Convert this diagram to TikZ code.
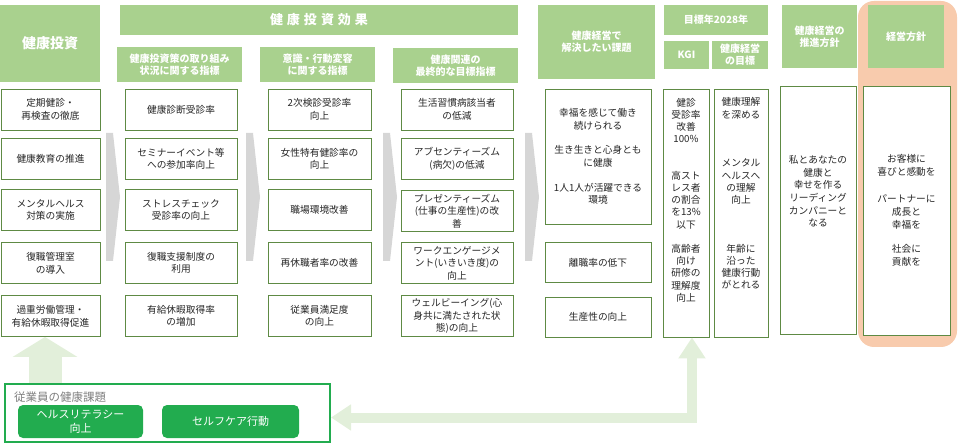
\documentclass[tikz,border=0pt]{standalone}
\usepackage{fontspec}
\setmainfont{Noto Sans CJK JP}
\usetikzlibrary{arrows.meta}
\definecolor{hgreen}{HTML}{A9D18E}
\definecolor{bgreen}{HTML}{5E8A44}
\definecolor{chev}{HTML}{D6D6D6}
\definecolor{orng}{HTML}{F8CBAD}
\definecolor{pale}{HTML}{E2EFDA}
\definecolor{vgreen}{HTML}{22AC4F}
\definecolor{bodytext}{HTML}{262626}
\definecolor{lblgray}{HTML}{7F7F7F}
\tikzset{
  hdr/.style={fill=hgreen, text=white, font=\bfseries\fontsize{10}{12}\selectfont, align=center, inner sep=0pt},
  bx/.style={draw=bgreen, line width=0.9pt, fill=white, text=bodytext, align=center, inner sep=0pt, font=\fontsize{9.7}{12.6}\selectfont},
  bodytxt/.style={text=bodytext, align=center, inner sep=0pt, font=\fontsize{9.7}{12.2}\selectfont},
  c1/.style={bx, minimum width=99pt, minimum height=41pt},
  c2/.style={bx, minimum width=112pt, minimum height=41pt},
  c3/.style={bx, minimum width=103pt, minimum height=41pt},
  c4/.style={bx, minimum width=112pt, minimum height=41pt},
  c5/.style={bx, minimum width=106pt, minimum height=40pt},
  tall/.style={bx, minimum height=248pt},
  chevshape/.style={fill=chev, draw=none},
  fat/.style={draw=pale, line join=miter},
  pill/.style={fill=vgreen, text=white, rounded corners=5pt, align=center, inner sep=0pt, minimum height=33pt, font=\fontsize{11}{14.5}\selectfont},
}
\begin{document}
\begin{tikzpicture}[x=1pt,y=-1pt]
\useasboundingbox (0,0) rectangle (958,443);
% orange backdrop
\fill[orng, rounded corners=16pt] (858,1) rectangle (957,347);
% chevrons
\foreach \L in {106,246,383,525}{
  \fill[chevshape] (\L,133) -- (\L+7,133) -- (\L+14,197) -- (\L+7,261) -- (\L,261) -- cycle;
}
% headers
\node[hdr, minimum width=100pt, minimum height=77pt, font=\bfseries\fontsize{14}{16}\selectfont] (h1) at (50,43.5) {健康投資};
\node[hdr, minimum width=398pt, minimum height=30pt, font=\bfseries\fontsize{13}{15}\selectfont] (h2) at (319,20) {健\hspace{4pt}康\hspace{4pt}投\hspace{4pt}資\hspace{4pt}効\hspace{4pt}果};
\node[hdr, minimum width=125pt, minimum height=35pt] (s2) at (179.5,64.5) {健康投資策の取り組み\\状況に関する指標};
\node[hdr, minimum width=115pt, minimum height=35pt] (s3) at (317.5,64.5) {意識・行動変容\\に関する指標};
\node[hdr, minimum width=125pt, minimum height=35pt] (s4) at (455.5,65.5) {健康関連の\\最終的な目標指標};
\node[hdr, minimum width=117pt, minimum height=74pt] (h5) at (596.5,42) {健康経営で\\解決したい課題};
\node[hdr, minimum width=104pt, minimum height=30pt] (h6) at (716,20) {目標年2028年};
\node[hdr, minimum width=45pt, minimum height=28pt] (h6a) at (686.5,55) {KGI};
\node[hdr, minimum width=56pt, minimum height=28pt] (h6b) at (740,55) {健康経営\\の目標};
\node[hdr, minimum width=75pt, minimum height=63pt] (h8) at (819.5,36.5) {健康経営の\\推進方針};
\node[hdr, minimum width=76pt, minimum height=63pt] (h9) at (906,36.5) {経営方針};
% column 1
\node[c1] (a1) at (50.5,109.5) {定期健診・\\再検査の徹底};
\node[c1] (a2) at (50.5,159) {健康教育の推進};
\node[c1] (a3) at (50.5,210) {メンタルヘルス\\対策の実施};
\node[c1] (a4) at (50.5,263) {復職管理室\\の導入};
\node[c1] (a5) at (50.5,316) {過重労働管理・\\有給休暇取得促進};
% column 2
\node[c2] (b1) at (181,109.5) {健康診断受診率};
\node[c2] (b2) at (181,159) {セミナーイベント等\\への参加率向上};
\node[c2] (b3) at (181,210) {ストレスチェック\\受診率の向上};
\node[c2] (b4) at (181,263) {復職支援制度の\\利用};
\node[c2] (b5) at (181,316) {有給休暇取得率\\の増加};
% column 3
\node[c3] (d1) at (319.5,109.5) {2次検診受診率\\向上};
\node[c3] (d2) at (319.5,159) {女性特有健診率の\\向上};
\node[c3] (d3) at (319.5,210) {職場環境改善};
\node[c3] (d4) at (319.5,263) {再休職者率の改善};
\node[c3] (d5) at (319.5,316) {従業員満足度\\の向上};
% column 4
\node[c4] (e1) at (457,109.5) {生活習慣病該当者\\の低減};
\node[c4] (e2) at (457,159) {アブセンティーズム\\(病欠)の低減};
\node[c4] (e3) at (457,211) {プレゼンティーズム\\(仕事の生産性)の改\\善};
\node[c4] (e4) at (457,263) {ワークエンゲージメ\\ント(いきいき度)の\\向上};
\node[c4] (e5) at (457,316) {ウェルビーイング(心\\身共に満たされた状\\態)の向上};
% column 5
\node[bx, minimum width=106pt, minimum height=135pt] (f1) at (598,156.5) {幸福を感じて働き\\続けられる\\[12pt]生き生きと心身とも\\に健康\\[12pt]1人1人が活躍できる\\環境};
\node[c5] (f2) at (598,262.5) {離職率の低下};
\node[c5] (f3) at (598,317) {生産性の向上};
% column 6 (KGI)
\node[tall, minimum width=46pt] (k1) at (686,213) {};
\node[bodytxt] (k1t) at (686,200) {健診\\受診率\\改善\\100\%\\[24.4pt]高スト\\レス者\\の割合\\を13\%\\以下\\[12.2pt]高齢者\\向け\\研修の\\理解度\\向上};
% column 7
\node[tall, minimum width=54pt] (g1) at (741,213) {};
\node[bodytxt] (g1t) at (741,193.5) {健康理解\\を深める\\[36.6pt]メンタル\\ヘルスへ\\の理解\\向上\\[36.6pt]年齢に\\沿った\\健康行動\\がとれる};
% column 8
\node[tall, minimum width=76pt] (p8) at (818,210) {};
\node[bodytxt, font=\fontsize{9.7}{12.6}\selectfont] (p8t) at (818,191.5) {私とあなたの\\健康と\\幸せを作る\\リーディング\\カンパニーと\\なる};
% column 9
\node[tall, minimum width=87pt, minimum height=249pt, font=\fontsize{9.7}{13}\selectfont] (q9) at (906.5,210.5) {お客様に\\喜びと感動を\\[14pt]パートナーに\\成長と\\幸福を\\[11pt]社会に\\貢献を};
% bottom box
\node[draw=vgreen, line width=2pt, minimum width=325pt, minimum height=58pt, inner sep=0pt] (issue) at (167.5,412.5) {};
\node[anchor=west, text=lblgray, inner sep=0pt, font=\fontsize{11.5}{13}\selectfont] (issuelbl) at (14,397) {従業員の健康課題};
\node[pill, minimum width=125pt] (lit) at (80.5,421.5) {ヘルスリテラシー\\向上};
\node[pill, minimum width=137pt] (care) at (230.5,421.5) {セルフケア行動};
% arrows
\coordinate (upx) at (45,0);
\coordinate (lx) at (692,0);
\coordinate (lrow) at (0,417.5);
\draw[fat, line width=33pt, -{Triangle[width=64pt,length=20pt]}] (issue.north -| upx) -- (a5.south -| upx);
\draw[fat, line width=10pt, {Triangle[width=25pt,length=20pt]}-{Triangle[width=26pt,length=21pt]}] (issue.east |- lrow) -| (k1.south -| lx);
\end{tikzpicture}
\end{document}
